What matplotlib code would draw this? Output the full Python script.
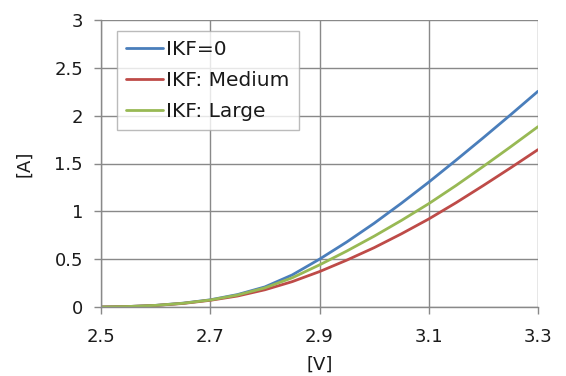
import numpy as np
import matplotlib
matplotlib.use('Agg')
import matplotlib.pyplot as plt

volts = [2.5, 2.55, 2.6, 2.65, 2.7, 2.75, 2.8, 2.85, 2.9, 2.95,
         3.0, 3.05, 3.1, 3.15, 3.2, 3.25, 3.3]
ikf_zero = [0, 0.005, 0.017, 0.04, 0.075, 0.13, 0.21, 0.335, 0.50, 0.68,
            0.875, 1.085, 1.305, 1.535, 1.77, 2.01, 2.255]
ikf_medium = [0, 0.005, 0.016, 0.037, 0.07, 0.115, 0.18, 0.265, 0.37, 0.49,
              0.62, 0.765, 0.92, 1.09, 1.27, 1.455, 1.645]
ikf_large = [0, 0.005, 0.017, 0.039, 0.073, 0.125, 0.20, 0.305, 0.44, 0.585,
             0.74, 0.905, 1.08, 1.27, 1.47, 1.675, 1.885]

labels = ['IKF=0', 'IKF: Medium', 'IKF: Large']
colors = ['#4A7EBB', '#BE4B48', '#98B954']
xticks = [2.5, 2.7, 2.9, 3.1, 3.3]
yticks = [0, 0.5, 1, 1.5, 2, 2.5, 3]

plt.rcParams['font.family'] = ['DejaVu Sans']
grid_c = '#898989'
txt_c = '#1a1a1a'
fs = 13

fig = plt.figure(figsize=(5.66, 3.76), dpi=100)
ax = fig.add_axes([101/566, 1 - 307/376, 437/566, 287/376])

for ys, lab, c in zip([ikf_zero, ikf_medium, ikf_large], labels, colors):
    ax.plot(volts, ys, color=c, lw=2.0, label=lab,
            solid_capstyle='round', solid_joinstyle='round')

ax.set_xlim(2.5, 3.3)
ax.set_ylim(0, 3)
ax.set_xticks(xticks)
ax.set_xticklabels([f'{v:.1f}' for v in xticks])
ax.set_yticks(yticks)
ax.set_yticklabels([f'{v:g}' for v in yticks])
ax.grid(True, color=grid_c, lw=1)
ax.set_axisbelow(True)
for s in ['top', 'right']:
    ax.spines[s].set_visible(False)
for s in ['left', 'bottom']:
    ax.spines[s].set_color(grid_c)
    ax.spines[s].set_linewidth(1)
ax.tick_params(colors=grid_c, labelcolor=txt_c, labelsize=fs,
               length=5, width=1, pad=8)
ax.tick_params(axis='x', pad=10)
ax.set_xlabel('[V]', fontsize=fs, color=txt_c, labelpad=7)
ax.set_ylabel('[A]', fontsize=fs, color=txt_c, labelpad=15)

leg = ax.legend(loc='upper left', bbox_to_anchor=(16/437, 1 - 11/287),
                fontsize=14.5, frameon=True, fancybox=False, handlelength=1.85,
                handletextpad=0.15, labelspacing=0.6, borderpad=0.45,
                borderaxespad=0)
leg.get_frame().set_edgecolor('#aaaaaa')
leg.get_frame().set_linewidth(1)
for t in leg.get_texts():
    t.set_color(txt_c)

fig.savefig('out.png', dpi=100)
